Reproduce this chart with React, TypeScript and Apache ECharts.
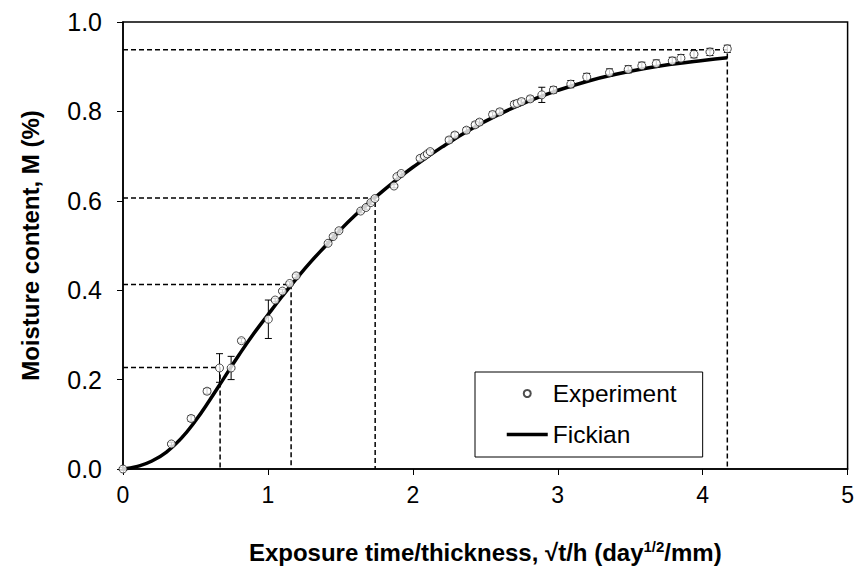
import React, { useEffect, useRef } from "react";
import * as echarts from "echarts";

// Experimental points (sqrt(t)/h, moisture content) with error half-widths
const expX = [0, 0.334, 0.47, 0.58, 0.666, 0.746, 0.817, 1.003, 1.05, 1.1, 1.15, 1.195, 1.415, 1.45, 1.49, 1.64, 1.677, 1.71, 1.738, 1.87, 1.89, 1.92, 2.05, 2.08, 2.1, 2.12, 2.25, 2.29, 2.37, 2.43, 2.46, 2.55, 2.6, 2.7, 2.72, 2.75, 2.81, 2.89, 2.97, 3.09, 3.2, 3.357, 3.486, 3.58, 3.68, 3.79, 3.85, 3.94, 4.05, 4.17];
const expY = [0, 0.056, 0.113, 0.174, 0.226, 0.226, 0.287, 0.335, 0.378, 0.398, 0.415, 0.432, 0.505, 0.52, 0.533, 0.577, 0.585, 0.596, 0.605, 0.633, 0.654, 0.661, 0.695, 0.7, 0.705, 0.71, 0.736, 0.747, 0.758, 0.77, 0.776, 0.793, 0.799, 0.816, 0.818, 0.822, 0.828, 0.837, 0.848, 0.861, 0.877, 0.887, 0.894, 0.902, 0.907, 0.913, 0.919, 0.928, 0.933, 0.94];
const expErr = [0.003, 0.004, 0.006, 0.006, 0.032, 0.026, 0.005, 0.043, 0.004, 0.004, 0.004, 0.004, 0.004, 0.004, 0.004, 0.004, 0.004, 0.004, 0.004, 0.004, 0.004, 0.004, 0.005, 0.005, 0.005, 0.005, 0.006, 0.006, 0.006, 0.006, 0.006, 0.006, 0.006, 0.006, 0.006, 0.006, 0.006, 0.017, 0.007, 0.008, 0.008, 0.008, 0.008, 0.008, 0.008, 0.008, 0.008, 0.008, 0.008, 0.008];

// Fickian model curve
const fickX = [0, 0.1, 0.2, 0.3, 0.4, 0.5, 0.6, 0.7, 0.8, 0.9, 1.0, 1.1, 1.2, 1.3, 1.4, 1.5, 1.6, 1.7, 1.8, 1.9, 2.0, 2.2, 2.4, 2.6, 2.8, 3.0, 3.2, 3.4, 3.6, 3.8, 4.0, 4.17];
const fickY = [0, 0.006, 0.018, 0.038, 0.068, 0.108, 0.155, 0.205, 0.255, 0.302, 0.345, 0.387, 0.427, 0.465, 0.5, 0.535, 0.567, 0.596, 0.624, 0.65, 0.675, 0.72, 0.76, 0.794, 0.823, 0.847, 0.867, 0.883, 0.896, 0.906, 0.914, 0.92];

// Dashed guide lines (x, M) pairs
const guideX = [0.67, 1.16, 1.74, 4.17];
const guideY = [0.227, 0.413, 0.606, 0.938];

const xTicks = [0, 1, 2, 3, 4, 5];
const yTicks = [0, 0.2, 0.4, 0.6, 0.8, 1.0];

export default function App() {
  const ref = useRef<HTMLDivElement>(null);
  useEffect(() => {
    if (!ref.current) return;
    const chart = echarts.init(ref.current, undefined, { renderer: "svg" });
    const expData = expX.map((x, i) => [x, expY[i], expErr[i]]);
    const fickData = fickX.map((x, i) => [x, fickY[i]]);
    const guideSeries = guideX.map((gx, i) => ({
      type: "line",
      name: "guide" + i,
      data: [[0, guideY[i]], [gx, guideY[i]], [gx, 0]],
      symbol: "none",
      silent: true,
      z: 1,
      lineStyle: { color: "#000", width: 1.5, type: [5, 3] },
    }));
    const font = "'Liberation Sans', Arial, sans-serif";
    const option: any = {
      animation: false,
      backgroundColor: "#fff",
      grid: {
        left: 123, right: 6, top: 22, bottom: 101,
        show: true, borderColor: "#000", borderWidth: 1.5,
      },
      xAxis: {
        type: "value", min: 0, max: 5, interval: 1,
        splitLine: { show: false },
        axisLine: { lineStyle: { color: "#000", width: 1.5 } },
        axisTick: { show: true, length: 6, lineStyle: { color: "#000", width: 1 } },
        axisLabel: {
          margin: 14, color: "#000", fontSize: 23,
          fontFamily: "'Liberation Sans Narrow', " + font,
          formatter: (v: number) => (xTicks.includes(v) ? String(v) : ""),
        },
        name: "Exposure time/thickness, √t/h (day{sup|1/2}/mm)",
        nameLocation: "middle", nameGap: 70,
        nameTextStyle: {
          color: "#000", fontSize: 24, fontWeight: "bold",
          fontFamily: font,
          rich: {
            sup: {
              fontSize: 15, fontWeight: "bold", color: "#000",
              fontFamily: font,
              verticalAlign: "bottom", padding: [0, 0, 11, 0],
            },
          },
        },
      },
      yAxis: {
        type: "value", min: 0, max: 1, interval: 0.2,
        splitLine: { show: false },
        axisLine: { show: true, lineStyle: { color: "#000", width: 1.5 } },
        axisTick: { show: true, length: 6, lineStyle: { color: "#000", width: 1 } },
        axisLabel: {
          margin: 21, color: "#000", fontSize: 25,
          fontFamily: font,
          formatter: (v: number) => {
            const t = yTicks.find((y) => Math.abs(y - v) < 1e-6);
            return t === undefined ? "" : t.toFixed(1);
          },
        },
        name: "Moisture content, M (%)",
        nameLocation: "middle", nameGap: 81, nameRotate: 90,
        nameTextStyle: {
          color: "#000", fontSize: 24, fontWeight: "bold",
          fontFamily: font,
        },
      },
      legend: {
        orient: "vertical",
        left: 475, top: 372,
        padding: [9, 26, 10, 30],
        itemGap: 16,
        itemWidth: 41, itemHeight: 7,
        borderColor: "#000", borderWidth: 1,
        backgroundColor: "#fff",
        textStyle: { color: "#000", fontSize: 24.5, lineHeight: 24, fontFamily: font },
        data: [
          { name: "Experiment", icon: "circle" },
          { name: "Fickian", itemStyle: { opacity: 0, borderWidth: 0 }, lineStyle: { width: 3.5, color: "#000" } },
        ],
      },
      series: [
        ...guideSeries,
        {
          type: "line",
          name: "Fickian",
          data: fickData,
          smooth: true,
          symbol: "none",
          z: 2,
          lineStyle: { color: "#000", width: 3.5 },
          itemStyle: { color: "#000" },
        },
        {
          type: "custom",
          name: "errorbars",
          z: 3,
          silent: true,
          data: expData,
          renderItem: (params: any, api: any) => {
            const x = api.value(0);
            const y = api.value(1);
            const e = api.value(2);
            const top = api.coord([x, y + e]);
            const bot = api.coord([x, y - e]);
            const hw = 3.5;
            const st = { stroke: "#000", lineWidth: 1 };
            return {
              type: "group",
              children: [
                { type: "line", shape: { x1: top[0], y1: top[1], x2: bot[0], y2: bot[1] }, style: st },
                { type: "line", shape: { x1: top[0] - hw, y1: top[1], x2: top[0] + hw, y2: top[1] }, style: st },
                { type: "line", shape: { x1: bot[0] - hw, y1: bot[1], x2: bot[0] + hw, y2: bot[1] }, style: st },
              ],
            };
          },
        },
        {
          type: "scatter",
          name: "Experiment",
          data: expData.map((d) => [d[0], d[1]]),
          symbol: "circle",
          symbolSize: 8,
          z: 4,
          itemStyle: { color: "#fff", borderColor: "#222", borderWidth: 1 },
        },
      ],
    };
    chart.setOption(option);
    return () => chart.dispose();
  }, []);
  return (
    <div
      ref={ref}
      style={{ position: "absolute", left: 0, top: 0, width: 857, height: 570 }}
    />
  );
}
